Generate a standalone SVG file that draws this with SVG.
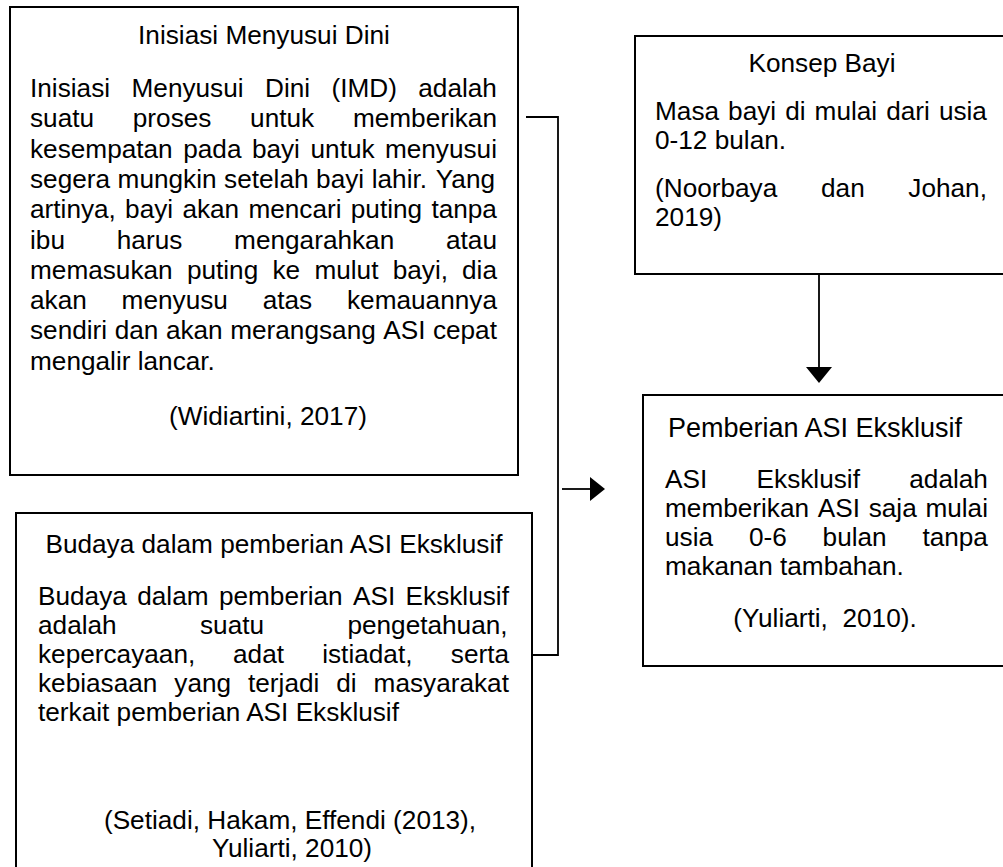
<svg xmlns="http://www.w3.org/2000/svg" width="1003" height="867" viewBox="0 0 1003 867">
<defs>
<style>
text{font-family:"Liberation Sans",Arial,sans-serif;font-size:26.2px;fill:#000}
.c{text-anchor:middle}
.box{fill:#fff;stroke:#000;stroke-width:2}
.ln{fill:none;stroke:#000;stroke-width:1.8}
.pre{white-space:pre}
</style>
</defs>
<rect width="1003" height="867" fill="#fff"/>
<g id="node-imd">
<rect class="box" x="10" y="7" width="508" height="468"/>
<text class="c" x="264" y="44">Inisiasi Menyusui Dini</text>
<text y="97"><tspan x="30">Inisiasi</tspan><tspan x="131.5">Menyusui</tspan><tspan x="265">Dini</tspan><tspan x="331.5">(IMD)</tspan><tspan x="418.3">adalah</tspan></text>
<text y="127.3"><tspan x="30">suatu</tspan><tspan x="132.8">proses</tspan><tspan x="250.1">untuk</tspan><tspan x="352.9">memberikan</tspan></text>
<text y="157.6"><tspan x="30">kesempatan</tspan><tspan x="183.2">pada</tspan><tspan x="251.9">bayi</tspan><tspan x="310.5">untuk</tspan><tspan x="384.9">menyusui</tspan></text>
<text y="187.9"><tspan x="30">segera</tspan><tspan x="117.6">mungkin</tspan><tspan x="224.1">setelah</tspan><tspan x="316.1">bayi</tspan><tspan x="371.7">lahir.</tspan><tspan x="435.8">Yang</tspan></text>
<text y="218.2"><tspan x="30">artinya,</tspan><tspan x="125.1">bayi</tspan><tspan x="182.4">akan</tspan><tspan x="248.4">mencari</tspan><tspan x="350.8">puting</tspan><tspan x="431.4">tanpa</tspan></text>
<text y="248.5"><tspan x="30">ibu</tspan><tspan x="116.8">harus</tspan><tspan x="234.1">mengarahkan</tspan><tspan x="446">atau</tspan></text>
<text y="278.8"><tspan x="30">memasukan</tspan><tspan x="186.9">puting</tspan><tspan x="272.5">ke</tspan><tspan x="314.4">mulut</tspan><tspan x="392.7">bayi,</tspan><tspan x="462">dia</tspan></text>
<text y="309.1"><tspan x="30">akan</tspan><tspan x="121.6">menyusu</tspan><tspan x="262.7">atas</tspan><tspan x="347">kemauannya</tspan></text>
<text y="339.4"><tspan x="30">sendiri</tspan><tspan x="114.7">dan</tspan><tspan x="165.9">akan</tspan><tspan x="230.2">merangsang</tspan><tspan x="383.3">ASI</tspan><tspan x="432.9">cepat</tspan></text>
<text x="30" y="369.7">mengalir lancar.</text>
<text class="c" x="268" y="425">(Widiartini, 2017)</text>
</g>
<g id="node-budaya">
<rect class="box" x="16" y="513" width="516" height="370"/>
<text class="c" x="274" y="553">Budaya dalam pemberian ASI Eksklusif</text>
<text y="605"><tspan x="38">Budaya</tspan><tspan x="137.2">dalam</tspan><tspan x="218.9">pemberian</tspan><tspan x="353.1">ASI</tspan><tspan x="405.6">Eksklusif</tspan></text>
<text y="634"><tspan x="38">adalah</tspan><tspan x="200">suatu</tspan><tspan x="347.4">pengetahuan,</tspan></text>
<text y="663"><tspan x="38">kepercayaan,</tspan><tspan x="233">adat</tspan><tspan x="322.2">istiadat,</tspan><tspan x="450.8">serta</tspan></text>
<text y="692"><tspan x="38">kebiasaan</tspan><tspan x="174.3">yang</tspan><tspan x="248">terjadi</tspan><tspan x="336.2">di</tspan><tspan x="373.6">masyarakat</tspan></text>
<text x="38" y="721">terkait pemberian ASI Eksklusif</text>
<text class="c" x="290" y="829">(Setiadi, Hakam, Effendi (2013),</text>
<text class="c" x="292" y="857">Yuliarti, 2010)</text>
</g>
<g id="node-konsep">
<rect class="box" x="635" y="36" width="380" height="238"/>
<text class="c" x="822" y="72">Konsep Bayi</text>
<text y="120"><tspan x="655">Masa</tspan><tspan x="728.1">bayi</tspan><tspan x="785.2">di</tspan><tspan x="814.6">mulai</tspan><tspan x="886.2">dari</tspan><tspan x="938.9">usia</tspan></text>
<text x="655" y="149">0-12 bulan.</text>
<text y="197"><tspan x="655">(Noorbaya</tspan><tspan x="821">dan</tspan><tspan x="908.3">Johan,</tspan></text>
<text x="655" y="226">2019)</text>
</g>
<g id="node-pemberian">
<rect class="box" x="643" y="395" width="372" height="271"/>
<text class="c" x="815" y="437" style="font-size:27px">Pemberian ASI Eksklusif</text>
<text y="488"><tspan x="665">ASI</tspan><tspan x="756.6">Eksklusif</tspan><tspan x="909.3">adalah</tspan></text>
<text y="517"><tspan x="665">memberikan</tspan><tspan x="817.8">ASI</tspan><tspan x="868.7">saja</tspan><tspan x="925.4">mulai</tspan></text>
<text y="546"><tspan x="665">usia</tspan><tspan x="748.9">0-6</tspan><tspan x="822.6">bulan</tspan><tspan x="922.4">tanpa</tspan></text>
<text x="665" y="575">makanan tambahan.</text>
<text class="c pre" x="825" y="627">(Yuliarti,  2010).</text>
</g>
<g id="connectors">
<polyline class="ln" points="526,117 558,117 558,655 532,655"/>
<line class="ln" x1="562" y1="489" x2="591" y2="489"/>
<polygon points="590,477 605,489 590,501" fill="#000"/>
<line class="ln" x1="819" y1="274" x2="819" y2="368"/>
<polygon points="806,367 832,367 819,383" fill="#000"/>
</g>
</svg>
